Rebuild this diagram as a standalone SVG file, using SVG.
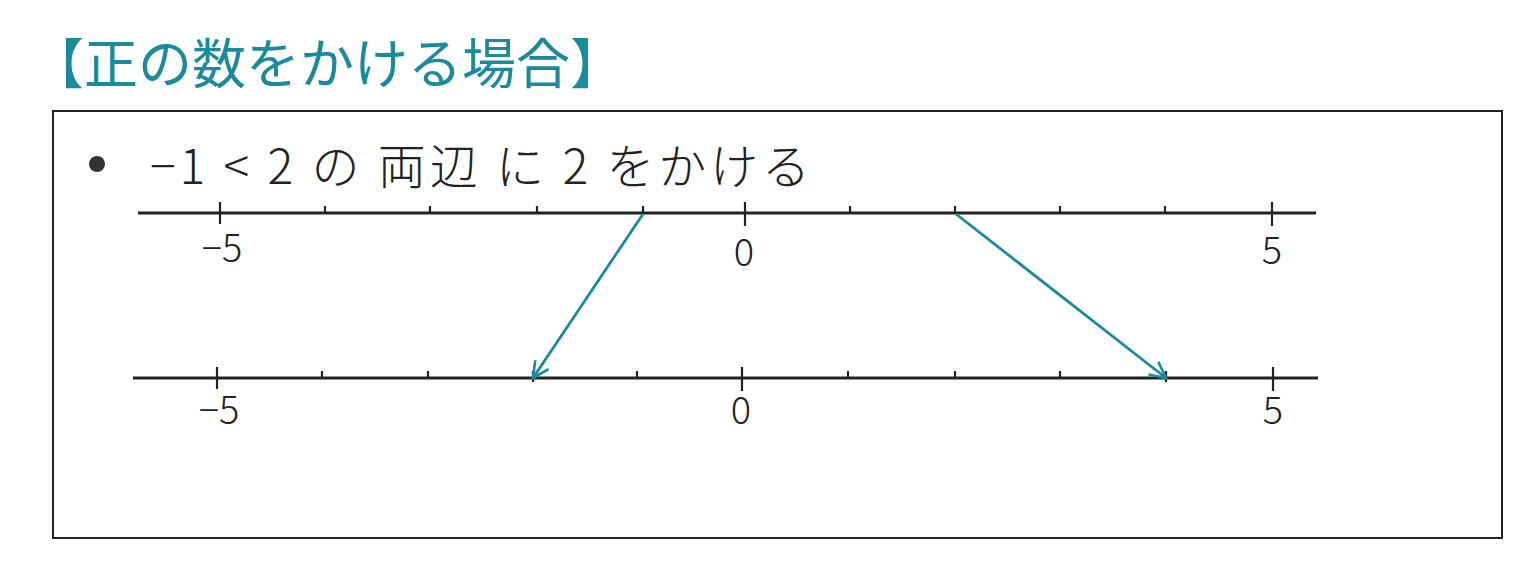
<svg xmlns="http://www.w3.org/2000/svg" width="1536" height="577" viewBox="0 0 1536 577">
<defs>
<style>
.title{font-family:"Noto Sans CJK JP","Noto Sans CJK SC",sans-serif;font-size:54px;fill:#1b8b9b;font-weight:400}
.hand{font-family:"Noto Sans CJK JP","Noto Sans CJK SC",sans-serif;font-size:48px;fill:#222;font-weight:300}
.num{font-family:"Noto Sans CJK JP","Liberation Sans",sans-serif;font-size:38px;fill:#222;font-weight:300;text-anchor:middle}
.axis{stroke:#222;stroke-width:3;fill:none}
.tick{stroke:#222;stroke-width:2.2;fill:none}
.arr{stroke:#1b8b9b;stroke-width:2.8;fill:none}
</style>
<marker id="ah" viewBox="0 0 20 20" refX="18" refY="10" markerWidth="20" markerHeight="20" markerUnits="userSpaceOnUse" orient="auto">
<path d="M2,2 L18,10 L2,18" fill="none" stroke="#1b8b9b" stroke-width="2.6"/>
</marker>
</defs>
<rect width="1536" height="577" fill="#fff"/>
<g id="title"><text class="title" x="30" y="84">【正の数をかける場合】</text></g>
<g id="frame"><rect x="53" y="111" width="1449" height="427" fill="none" stroke="#222" stroke-width="2"/></g>
<g id="statement">
<circle cx="97" cy="164" r="8" fill="#333"/>
<text class="hand" x="150" y="184" textLength="660" lengthAdjust="spacing">−1 &lt; 2 の 両辺 に 2 をかける</text>
</g>
<g id="line-top">
<line class="axis" x1="138" y1="213" x2="1316" y2="213"/>
<path class="tick" d="M220,202V224 M745,202V226 M1272,202V226 M325,206V213 M430,206V213 M537,206V213 M643,206V213 M850,206V213 M955,206V213 M1060,206V213 M1165,206V213"/>
<text class="num" x="222" y="262">−5</text>
<text class="num" x="744" y="266">0</text>
<text class="num" x="1272" y="264">5</text>
</g>
<g id="line-bottom">
<line class="axis" x1="133" y1="378" x2="1318" y2="378"/>
<path class="tick" d="M217,367V389 M742,367V391 M1273,367V391 M322,371V378 M428,371V378 M533,371V382 M637,371V378 M848,371V378 M955,371V378 M1060,371V378 M1166,371V382"/>
<text class="num" x="219" y="424">−5</text>
<text class="num" x="741" y="424">0</text>
<text class="num" x="1273" y="424">5</text>
</g>
<g id="connectors">
<line class="arr" x1="643" y1="214" x2="533" y2="378" marker-end="url(#ah)"/>
<line class="arr" x1="956" y1="214" x2="1166" y2="378" marker-end="url(#ah)"/>
</g>
</svg>
